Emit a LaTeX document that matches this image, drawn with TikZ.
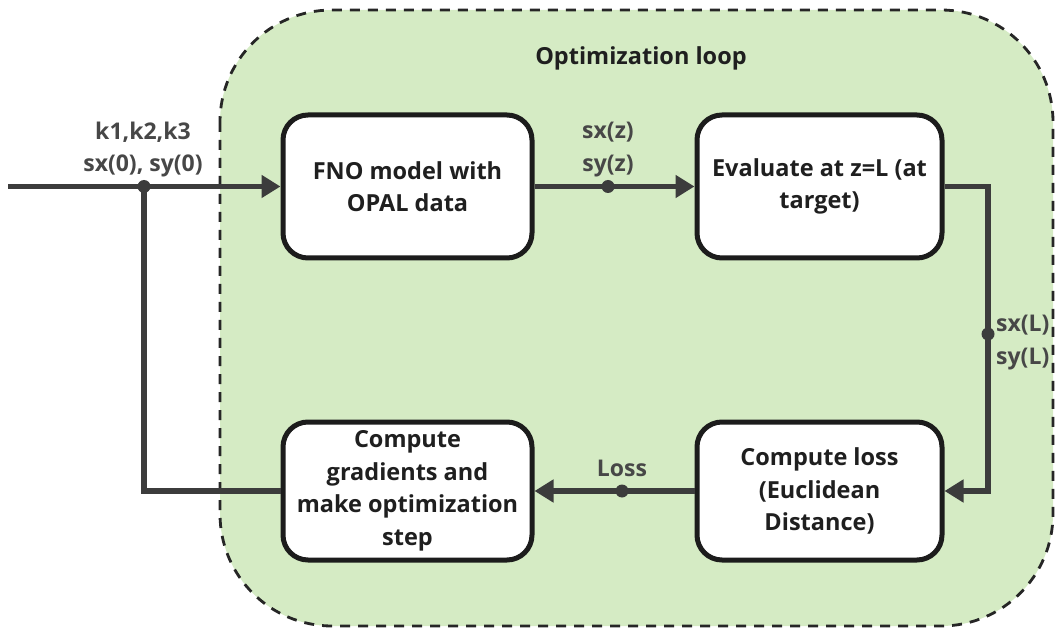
\documentclass[tikz,border=0pt]{standalone}
\usepackage{fontspec}
\setmainfont{Open Sans}
\usetikzlibrary{arrows.meta}
\definecolor{loopgreen}{HTML}{D5EBC4}
\definecolor{linegrey}{HTML}{3C3C3C}
\definecolor{labelgrey}{HTML}{474747}
\definecolor{boxline}{HTML}{1C1C1C}
\tikzset{
  stepbox/.style={draw=boxline, line width=5pt, fill=white, rounded corners=25pt,
    align=center, inner sep=0pt, text=black!88,
    font=\fontsize{23.5}{32.5}\selectfont\bfseries},
  conn/.style={draw=linegrey, line width=5.5pt},
  arr/.style={conn, -{Triangle[length=19pt,width=22pt]}},
  junction/.style={circle, fill=linegrey, inner sep=0pt, minimum size=13pt},
  lbl/.style={text=labelgrey, font=\fontsize{23}{32}\selectfont\bfseries, inner sep=0pt, align=center},
}
\begin{document}
\begin{tikzpicture}[x=1pt,y=-1pt]
\useasboundingbox (0,0) rectangle (1055,628);
% container
\draw[fill=loopgreen, draw=black!85, line width=2.8pt, dash pattern=on 10pt off 8pt, rounded corners=112pt]
  (220,10) rectangle (1053,626);
\node[font=\fontsize{23.5}{28}\selectfont\bfseries, text=black!88] (title) at (641,58) {Optimization loop};
% boxes
\node[stepbox, minimum width=249pt, minimum height=143pt] (fno) at (407.5,186.5) {FNO model with\\OPAL data};
\node[stepbox, minimum width=245pt, minimum height=143pt] (eval) at (819.5,186.5) {Evaluate at z=L (at\\target)};
\node[stepbox, minimum width=245pt, minimum height=138pt] (loss) at (819.5,491) {Compute loss\\(Euclidean\\Distance)};
\node[stepbox, minimum width=249pt, minimum height=138pt] (grad) at (407.5,491) {Compute\\gradients and\\make optimization\\step};
% coordinates
\coordinate (in) at (8,186.5);
\coordinate (j1) at (144,186.5);
\coordinate (c1) at (988,186.5);
% connectors
\draw[arr] (in) -- (fno.west);
\draw[conn] (j1) |- (grad.west);
\draw[arr] (fno.east) -- (eval.west);
\draw[arr] (eval.east) -- (c1) |- (loss.east);
\draw[arr] (loss.west) -- (grad.east);
% junction dots
\node[junction] (d1) at (144,186.5) {};
\node[junction] (d2) at (608,186.5) {};
\node[junction] (d3) at (988,334) {};
\node[junction] (d4) at (622,491) {};
% labels
\node[lbl, anchor=base] (k) at (143,140) {k1,k2,k3};
\node[lbl, anchor=base] (s0) at (143,172) {sx(0), sy(0)};
\node[lbl, anchor=base] (sxz) at (608,139) {sx(z)};
\node[lbl, anchor=base] (syz) at (608,172) {sy(z)};
\node[lbl, anchor=base west] (sxl) at (996,331) {sx(L)};
\node[lbl, anchor=base west] (syl) at (996,364) {sy(L)};
\node[lbl, anchor=base] (lossl) at (622,476) {Loss};
\end{tikzpicture}
\end{document}
